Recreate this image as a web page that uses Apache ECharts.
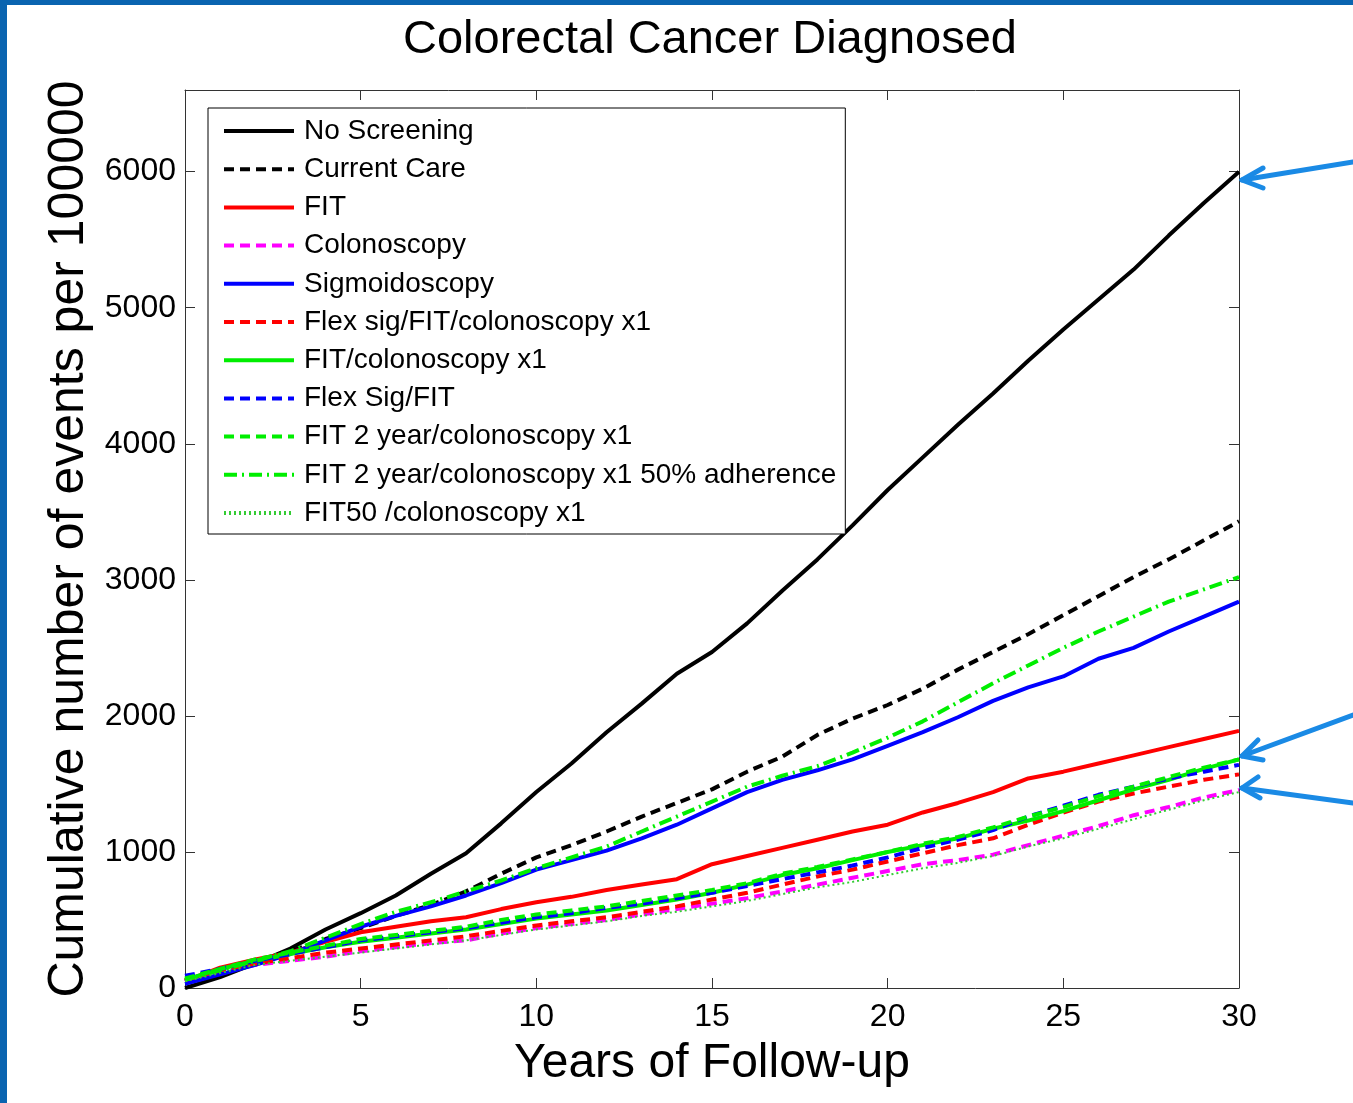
<!DOCTYPE html>
<html><head><meta charset="utf-8">
<script src="https://cdn.jsdelivr.net/npm/echarts@6/dist/echarts.min.js"></script>
<style>html,body{margin:0;padding:0;background:#fff}#c{width:1353px;height:1103px}</style>
</head><body><div id="c"></div>
<script>
const years = [0,1,2,3,4,5,6,7,8,9,10,11,12,13,14,15,16,17,18,19,20,21,22,23,24,25,26,27,28,29,30];
const yTicks = [0,1000,2000,3000,4000,5000,6000];
const xTicks = [0,5,10,15,20,25,30];

const noScreening   = [0,80,180,290,430,550,680,840,990,1210,1440,1650,1880,2090,2310,2470,2680,2920,3150,3400,3660,3900,4140,4370,4610,4840,5060,5280,5530,5770,6000];
const currentCare   = [50,130,200,270,360,440,530,610,710,840,960,1050,1150,1260,1360,1460,1590,1700,1860,1980,2080,2200,2340,2470,2600,2740,2880,3020,3150,3290,3430];
const fit           = [50,150,210,260,340,410,450,490,520,580,630,670,720,760,800,910,970,1030,1090,1150,1200,1290,1360,1440,1540,1590,1650,1710,1770,1830,1890];
const colonoscopy   = [50,110,170,200,230,270,300,330,350,400,440,470,500,540,580,620,660,710,760,810,860,910,940,980,1050,1120,1190,1270,1330,1400,1455];
const sigmoidoscopy = [30,100,170,250,350,450,530,600,680,770,870,940,1010,1100,1200,1320,1440,1530,1600,1680,1780,1880,1990,2110,2210,2290,2420,2500,2620,2730,2840];
const flexSigFitCol = [60,130,180,220,260,290,320,350,380,420,460,490,520,560,600,650,700,760,820,870,930,990,1050,1100,1200,1290,1370,1430,1480,1530,1570];
const fitCol        = [60,140,200,250,300,340,370,400,430,470,510,540,570,610,650,700,760,830,880,940,1000,1050,1100,1170,1230,1300,1380,1460,1530,1610,1680];
const flexSigFit    = [90,140,200,250,300,350,380,410,440,480,520,550,590,620,660,700,750,800,850,900,960,1030,1090,1160,1260,1340,1420,1480,1540,1590,1640];
const fit2yrCol     = [70,140,210,260,310,360,390,420,450,500,540,570,600,640,680,720,770,840,890,945,1000,1060,1110,1180,1260,1330,1410,1480,1550,1620,1680];
const fit2yrCol50   = [60,130,200,270,370,470,560,630,710,790,880,960,1040,1150,1260,1370,1480,1560,1630,1730,1840,1960,2100,2240,2370,2500,2620,2730,2840,2930,3020];
const fit50Col      = [50,110,170,200,230,260,290,320,350,390,430,460,490,530,560,600,640,690,740,780,830,880,920,970,1040,1100,1170,1240,1310,1380,1440];

const seriesDefs = [
  {name:'No Screening', data:noScreening, color:'#000000', type:'solid', width:4},
  {name:'Current Care', data:currentCare, color:'#000000', type:[10,6], width:4},
  {name:'FIT', data:fit, color:'#ff0000', type:'solid', width:4},
  {name:'Colonoscopy', data:colonoscopy, color:'#ff00ff', type:[10,6], width:4},
  {name:'Sigmoidoscopy', data:sigmoidoscopy, color:'#0000ff', type:'solid', width:4},
  {name:'Flex sig/FIT/colonoscopy x1', data:flexSigFitCol, color:'#ff0000', type:[10,6], width:4},
  {name:'FIT/colonoscopy x1', data:fitCol, color:'#00ee00', type:'solid', width:4},
  {name:'Flex Sig/FIT', data:flexSigFit, color:'#0000ff', type:[10,6], width:4},
  {name:'FIT 2 year/colonoscopy x1', data:fit2yrCol, color:'#00ee00', type:[10,6], width:4},
  {name:'FIT 2 year/colonoscopy x1 50% adherence', data:fit2yrCol50, color:'#00ee00', type:[13,5,2,5], width:4},
  {name:'FIT50 /colonoscopy x1', data:fit50Col, color:'#33cc33', type:[2,3], width:2}
];

const FONT = 'Liberation Sans, Arial, sans-serif';
const chart = echarts.init(document.getElementById('c'), null, {renderer:'canvas'});

const axisCommon = {
  axisLine:{show:true, onZero:false, lineStyle:{color:'#333', width:1}},
  axisTick:{show:true, inside:true, length:10, lineStyle:{color:'#333', width:1}},
  splitLine:{show:false}
};

const option = {
  backgroundColor:'#ffffff',
  animation:false,
  title:{
    text:'Colorectal Cancer Diagnosed', left:403, top:17, padding:0,
    textStyle:{fontFamily:FONT, fontSize:47, fontWeight:'normal', color:'#000'}
  },
  grid:{left:185, right:114, top:90, bottom:115},
  legend:{
    orient:'vertical', left:208, top:108,
    padding:[8,9,6,14],
    itemWidth:70, itemHeight:20, itemGap:8.2,
    borderColor:'#000', borderWidth:1, backgroundColor:'#fff',
    itemStyle:{color:'rgba(0,0,0,0)', borderWidth:0, opacity:0},
    lineStyle:{width:4},
    textStyle:{fontFamily:FONT, fontSize:28, color:'#000', lineHeight:30, padding:[0,0,0,5]},
    data: seriesDefs.map(s=>s.name)
  },
  xAxis:[
    Object.assign({type:'value', min:0, max:30, interval:5, position:'bottom',
      name:'Years of Follow-up', nameLocation:'middle', nameGap:52,
      nameTextStyle:{fontFamily:FONT, fontSize:48, color:'#000'},
      axisLabel:{fontFamily:FONT, fontSize:32, color:'#000', margin:13,
        formatter:v=> xTicks.includes(v) ? String(v) : ''}}, axisCommon),
    Object.assign({type:'value', min:0, max:30, interval:5, position:'top', axisLabel:{show:false}}, axisCommon)
  ],
  yAxis:[
    Object.assign({type:'value', min:0, max:6600, interval:1000, position:'left',
      name:'Cumulative number of events per 100000', nameLocation:'middle', nameGap:70,
      nameTextStyle:{fontFamily:FONT, fontSize:50, color:'#000'},
      axisLabel:{fontFamily:FONT, fontSize:32, color:'#000', margin:9, showMaxLabel:false,
        formatter:v=> yTicks.includes(v) ? String(v) : ''}}, axisCommon),
    Object.assign({type:'value', min:0, max:6600, interval:1000, position:'right', axisLabel:{show:false}}, axisCommon)
  ],
  series: seriesDefs.map(s=>({
    name:s.name, type:'line', xAxisIndex:0, yAxisIndex:0,
    data: years.map((y,i)=>[y, s.data[i]]),
    symbol:'none', smooth:false,
    lineStyle:{color:s.color, width:s.width, type:s.type},
    itemStyle:{color:s.color}
  })),
  graphic:[
    {type:'rect', shape:{x:0,y:0,width:1353,height:5}, style:{fill:'#0a64b0'}, z:100},
    {type:'rect', shape:{x:0,y:0,width:7,height:1103}, style:{fill:'#0a64b0'}, z:100},
    {type:'polyline', shape:{points:[[1353,162],[1242,180]]}, style:{stroke:'#1a8ae5', lineWidth:5, lineCap:'round', fill:null}, z:100},
    {type:'polyline', shape:{points:[[1263,168],[1242,180],[1263,188]]}, style:{stroke:'#1a8ae5', lineWidth:5, lineCap:'round', lineJoin:'round', fill:null}, z:100},
    {type:'polyline', shape:{points:[[1353,715],[1242,756]]}, style:{stroke:'#1a8ae5', lineWidth:5, lineCap:'round', fill:null}, z:100},
    {type:'polyline', shape:{points:[[1258,740],[1242,756],[1263,760]]}, style:{stroke:'#1a8ae5', lineWidth:5, lineCap:'round', lineJoin:'round', fill:null}, z:100},
    {type:'polyline', shape:{points:[[1353,803],[1242,788]]}, style:{stroke:'#1a8ae5', lineWidth:5, lineCap:'round', fill:null}, z:100},
    {type:'polyline', shape:{points:[[1258,777],[1242,788],[1260,798]]}, style:{stroke:'#1a8ae5', lineWidth:5, lineCap:'round', lineJoin:'round', fill:null}, z:100}
  ]
};
chart.setOption(option);
</script>
</body></html>
